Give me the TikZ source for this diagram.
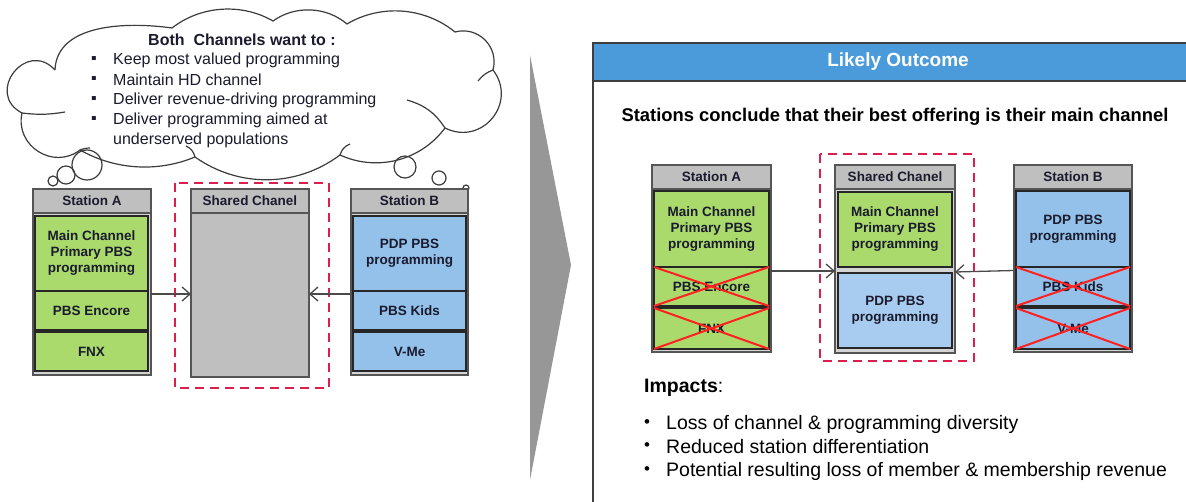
\documentclass[tikz,border=0pt]{standalone}
\usepackage{fontspec}
\setmainfont{Liberation Sans}
\usetikzlibrary{arrows.meta}
\definecolor{framebg}{HTML}{D4D4D4}
\definecolor{hdrc}{HTML}{BFBFBF}
\definecolor{framec}{HTML}{555555}
\definecolor{grn}{HTML}{A9DA6B}
\definecolor{blu}{HTML}{93C1EA}
\definecolor{blutwo}{HTML}{A7CCEF}
\definecolor{shgray}{HTML}{BFBFBF}
\definecolor{xred}{HTML}{FF2020}
\definecolor{dred}{HTML}{DC1E4A}
\definecolor{arrc}{HTML}{4A4A4A}
\definecolor{hdrblue}{HTML}{4B9BDB}
\definecolor{panelc}{HTML}{3F3F3F}
\definecolor{chev}{HTML}{979797}
\definecolor{cloudc}{HTML}{3C3C3C}
\definecolor{txt}{HTML}{1B1B2E}
\newcommand\bxf{\fontsize{13.5}{16}\selectfont\bfseries}
\newcommand\cloudf{\fontsize{16}{20}\selectfont}
\newcommand\bigf{\fontsize{19.5}{23.5}\selectfont}
\tikzset{
  frame/.style={draw=framec, fill=framebg, line width=1.5pt, inner sep=0pt, outer sep=0pt, anchor=north west},
  hdr/.style={draw=framec, fill=hdrc, line width=1.2pt, inner sep=0pt, outer sep=0pt, anchor=north west, font=\bxf, text=txt},
  gbox/.style={draw=black!85, fill=grn, line width=1.5pt, inner sep=0pt, outer sep=0pt, anchor=north west, font=\bxf, text=txt, align=center},
  bbox/.style={gbox, fill=blu},
  bboxtwo/.style={gbox, fill=blutwo},
  redx/.style={draw=xred, line width=2pt},
  grp/.style={draw=dred, line width=2.5pt, dash pattern=on 9pt off 6pt},
  link/.style={draw=arrc, line width=1.3pt, -{Straight Barb[length=8pt,width=14pt]}},
  cloudline/.style={draw=cloudc, line width=1.2pt},
  ctext/.style={font=\cloudf, text=txt, inner sep=0pt, anchor=west},
  rtext/.style={font=\bigf, text=black, inner sep=0pt, anchor=west},
  bul/.style={font=\fontsize{17}{18}\selectfont, text=black, inner sep=0pt, anchor=west},
}
\begin{document}
\begin{tikzpicture}[x=1pt,y=1pt]
\useasboundingbox (0,0) rectangle (1186,-502);
\clip (0,0) rectangle (1186,-502);

% ---------- thought cloud ----------
\draw[cloudline, fill=white]
  (55,-70) to[out=88,in=172,looseness=0.95] (172,-28)
  to[bend left=34,looseness=0.92] (273,-21)
  to[bend left=38,looseness=0.94] (347,-24)
  to[bend left=35,looseness=0.93] (455,-32)
  to[bend left=60,looseness=1.14] (493,-70)
  to[bend left=77,looseness=1.4] (445,-128)
  to[bend left=39,looseness=0.96] (340,-155)
  to[bend left=36,looseness=0.95] (195,-157)
  to[bend left=26,looseness=0.9] (80,-150)
  to[bend left=70,looseness=1.25] (22,-113)
  to[bend left=100,looseness=2.0] (55,-70);
\draw[cloudline] (493,-70) to[bend right=15] (478,-81);
\draw[cloudline] (445,-128) to[bend right=20] (407,-100);
\draw[cloudline] (340,-155) to[bend left=25] (350,-144);
\draw[cloudline] (195,-157) to[bend right=25] (186,-146);
\draw[cloudline] (22,-113) to[bend right=8] (65,-112);
\draw[cloudline] (80,-150) to[bend left=10] (90,-148);
% bubbles
\draw[cloudline] (87,-165) circle[radius=15];
\draw[cloudline] (66,-175) circle[radius=9];
\draw[cloudline] (53,-181) circle[radius=5];
\draw[cloudline] (405,-167) circle[radius=11];
\draw[cloudline] (439,-178) circle[radius=7];
\draw[cloudline] (466,-188) circle[radius=3];

\node[font=\cloudf\bfseries, text=txt, inner sep=0pt] (ctitle) at (242,-40) {Both\ \ Channels want to :};
\node[ctext] (cb1) at (91,-60) {▪};
\node[ctext] (cl1) at (113,-60) {Keep most valued programming};
\node[ctext] (cb2) at (91,-80) {▪};
\node[ctext] (cl2) at (113,-80) {Maintain HD channel};
\node[ctext] (cb3) at (91,-100) {▪};
\node[ctext] (cl3) at (113,-100) {Deliver revenue-driving programming};
\node[ctext] (cb4) at (91,-120) {▪};
\node[ctext] (cl4) at (113,-120) {Deliver programming aimed at};
\node[ctext] (cl5) at (113,-140) {underserved populations};

% ---------- left diagram ----------
\node[frame, minimum width=118, minimum height=186] (sa) at (33,-189) {};
\node[hdr, minimum width=118, minimum height=24] (sah) at (33,-189) {Station A};
\node[gbox, minimum width=113, minimum height=75] (sa1) at (35,-216) {Main Channel\\Primary PBS\\programming};
\node[gbox, minimum width=113, minimum height=39] (sa2) at (35,-291) {PBS Encore};
\node[gbox, minimum width=113, minimum height=39] (sa3) at (35,-332) {FNX};

\node[frame, fill=shgray, minimum width=118, minimum height=188] (sc) at (191,-189) {};
\node[hdr, minimum width=118, minimum height=24] (sch) at (191,-189) {Shared Chanel};
\draw[grp] (175,-183) rectangle (329,-388);

\node[frame, minimum width=117, minimum height=186] (sb) at (351,-189) {};
\node[hdr, minimum width=117, minimum height=24] (sbh) at (351,-189) {Station B};
\node[bbox, minimum width=113, minimum height=75] (sb1) at (353,-216) {PDP PBS\\programming};
\node[bbox, minimum width=113, minimum height=39] (sb2) at (353,-291) {PBS Kids};
\node[bbox, minimum width=113, minimum height=39] (sb3) at (353,-332) {V-Me};

\draw[link] ([yshift=-12pt]sa.east) -- ([yshift=-11pt]sc.west);
\draw[link] ([yshift=-12pt]sb.west) -- ([yshift=-11pt]sc.east);

% ---------- chevron ----------
\fill[chev] (530,-55) -- (571,-265) -- (530,-480) -- cycle;

% ---------- right panel ----------
\fill[hdrblue] (593,-43) rectangle (1195,-81);
\draw[panelc, line width=1.5pt] (593,-510) -- (593,-43) -- (1195,-43);
\draw[panelc, line width=1.5pt] (593,-81) -- (1195,-81);
\node[font=\fontsize{19}{22}\selectfont\bfseries, text=white, inner sep=0pt] (lo) at (898,-62) {Likely Outcome};
\node[font=\fontsize{18.4}{22}\selectfont\bfseries, text=black, inner sep=0pt] (concl) at (895,-117) {Stations conclude that their best offering is their main channel};

\node[frame, minimum width=119, minimum height=187] (ra) at (652,-165) {};
\node[hdr, minimum width=119, minimum height=24] (rah) at (652,-165) {Station A};
\node[gbox, minimum width=115, minimum height=76] (ra1) at (654,-191) {Main Channel\\Primary PBS\\programming};
\node[gbox, minimum width=115, minimum height=39] (ra2) at (654,-267) {PBS Encore};
\node[gbox, minimum width=115, minimum height=41] (ra3) at (654,-308) {FNX};
\draw[redx] (ra2.north west) -- (ra2.south east) (ra2.south west) -- (ra2.north east);
\draw[redx] (ra3.north west) -- (ra3.south east) (ra3.south west) -- (ra3.north east);

\node[frame, minimum width=120, minimum height=188] (rs) at (835,-165) {};
\node[hdr, minimum width=120, minimum height=24] (rsh) at (835,-165) {Shared Chanel};
\node[gbox, minimum width=114, minimum height=75] (rs1) at (838,-192) {Main Channel\\Primary PBS\\programming};
\node[bboxtwo, minimum width=114, minimum height=75] (rs2) at (838,-273) {PDP PBS\\programming};
\draw[grp] (820,-154) rectangle (974,-361);

\node[frame, minimum width=118, minimum height=187] (rb) at (1014,-165) {};
\node[hdr, minimum width=118, minimum height=24] (rbh) at (1014,-165) {Station B};
\node[bbox, minimum width=114, minimum height=76] (rb1) at (1016,-191) {PDP PBS\\programming};
\node[bbox, minimum width=114, minimum height=39] (rb2) at (1016,-267) {PBS Kids};
\node[bbox, minimum width=114, minimum height=41] (rb3) at (1016,-308) {V-Me};
\draw[redx] (rb2.north west) -- (rb2.south east) (rb2.south west) -- (rb2.north east);
\draw[redx] (rb3.north west) -- (rb3.south east) (rb3.south west) -- (rb3.north east);

\draw[link] ([yshift=-12.5pt]ra.east) -- ([yshift=-12pt]rs.west);
\draw[link] ([yshift=-12pt]rb.west) -- ([yshift=-13pt]rs.east);

\node[rtext] (imp) at (644,-388) {\textbf{Impacts}:};
\node[bul] (ib1) at (644,-424) {•};
\node[rtext] (il1) at (666,-424) {Loss of channel \& programming diversity};
\node[bul] (ib2) at (644,-447) {•};
\node[rtext] (il2) at (666,-447) {Reduced station differentiation};
\node[bul] (ib3) at (644,-471) {•};
\node[rtext] (il3) at (666,-471) {Potential resulting loss of member \& membership revenue};
\end{tikzpicture}
\end{document}
